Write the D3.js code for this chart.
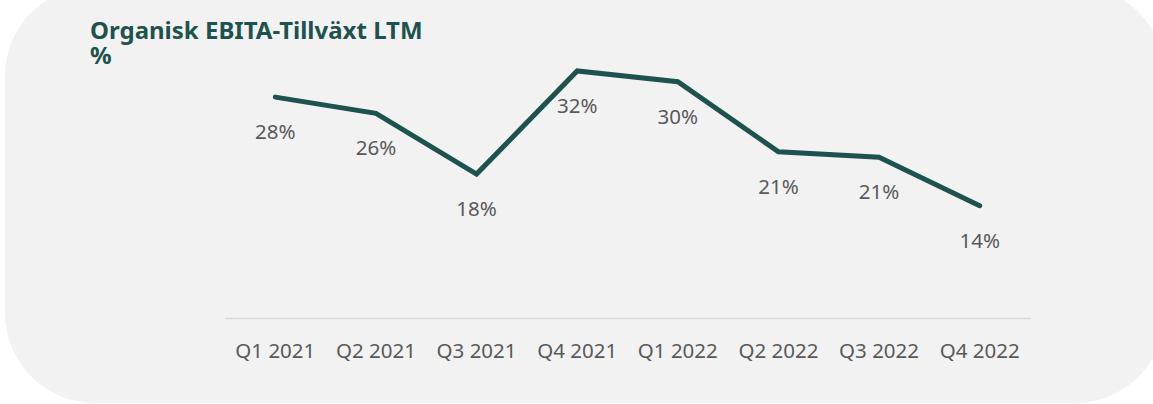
<!DOCTYPE html>
<html>
<head>
<meta charset="utf-8">
<script src="https://cdn.jsdelivr.net/npm/d3@7"></script>
<style>
  html, body { margin: 0; padding: 0; background: #ffffff; }
  svg { display: block; }
</style>
</head>
<body>
<svg id="chart"></svg>
<script>
// data
const quarters = ["Q1 2021", "Q2 2021", "Q3 2021", "Q4 2021", "Q1 2022", "Q2 2022", "Q3 2022", "Q4 2022"];
const growth = [28.4, 26.3, 18.4, 31.8, 30.4, 21.3, 20.6, 14.3];
const titleLines = ["Organisk EBITA-Tillväxt LTM", "%"];

const width = 1153, height = 404;
const green = "#1d524e";
const grey = "#595959";

const svg = d3.select("#chart").attr("width", width).attr("height", height);

// rounded panel behind everything
svg.append("rect")
  .attr("x", 5).attr("y", -14)
  .attr("width", 1160).attr("height", 417)
  .attr("rx", 90).attr("ry", 90)
  .attr("fill", "#f2f2f2");

const x = d3.scaleBand().domain(quarters).range([225, 1030]);
const y = d3.scaleLinear().domain([0, 35]).range([315.8, 46.3]);

// title, two lines
svg.append("text")
  .attr("x", 90).attr("y", 39)
  .attr("font-family", "'Noto Sans', sans-serif")
  .attr("font-weight", "bold")
  .attr("font-size", 24)
  .attr("fill", green)
  .selectAll("tspan")
  .data(titleLines)
  .enter().append("tspan")
  .attr("x", 90)
  .attr("dy", (d, i) => i == 0 ? 0 : 25)
  .text(d => d);

// x axis
const axis = svg.append("g")
  .attr("transform", "translate(0,318)")
  .call(d3.axisBottom(x).tickSize(0).tickPadding(0));
axis.select(".domain").attr("stroke", "#d9d9d9").attr("stroke-width", 1.5);
axis.selectAll("text")
  .attr("y", 40)
  .attr("dy", 0)
  .attr("font-family", "'Noto Sans', sans-serif")
  .attr("font-size", 20.5)
  .attr("fill", grey);

// line
const line = d3.line()
  .x((d, i) => x(quarters[i]) + x.bandwidth() / 2)
  .y(d => y(d));

svg.append("path")
  .datum(growth)
  .attr("d", line)
  .attr("fill", "none")
  .attr("stroke", green)
  .attr("stroke-width", 5)
  .attr("stroke-linejoin", "miter")
  .attr("stroke-linecap", "round");

// value labels under points
svg.selectAll(".lbl")
  .data(growth)
  .enter().append("text")
  .attr("class", "lbl")
  .attr("x", (d, i) => x(quarters[i]) + x.bandwidth() / 2)
  .attr("y", d => y(d) + 42)
  .attr("text-anchor", "middle")
  .attr("font-family", "'Noto Sans', sans-serif")
  .attr("font-size", 20.5)
  .attr("fill", grey)
  .text(d => Math.round(d) + "%");
</script>
</body>
</html>
